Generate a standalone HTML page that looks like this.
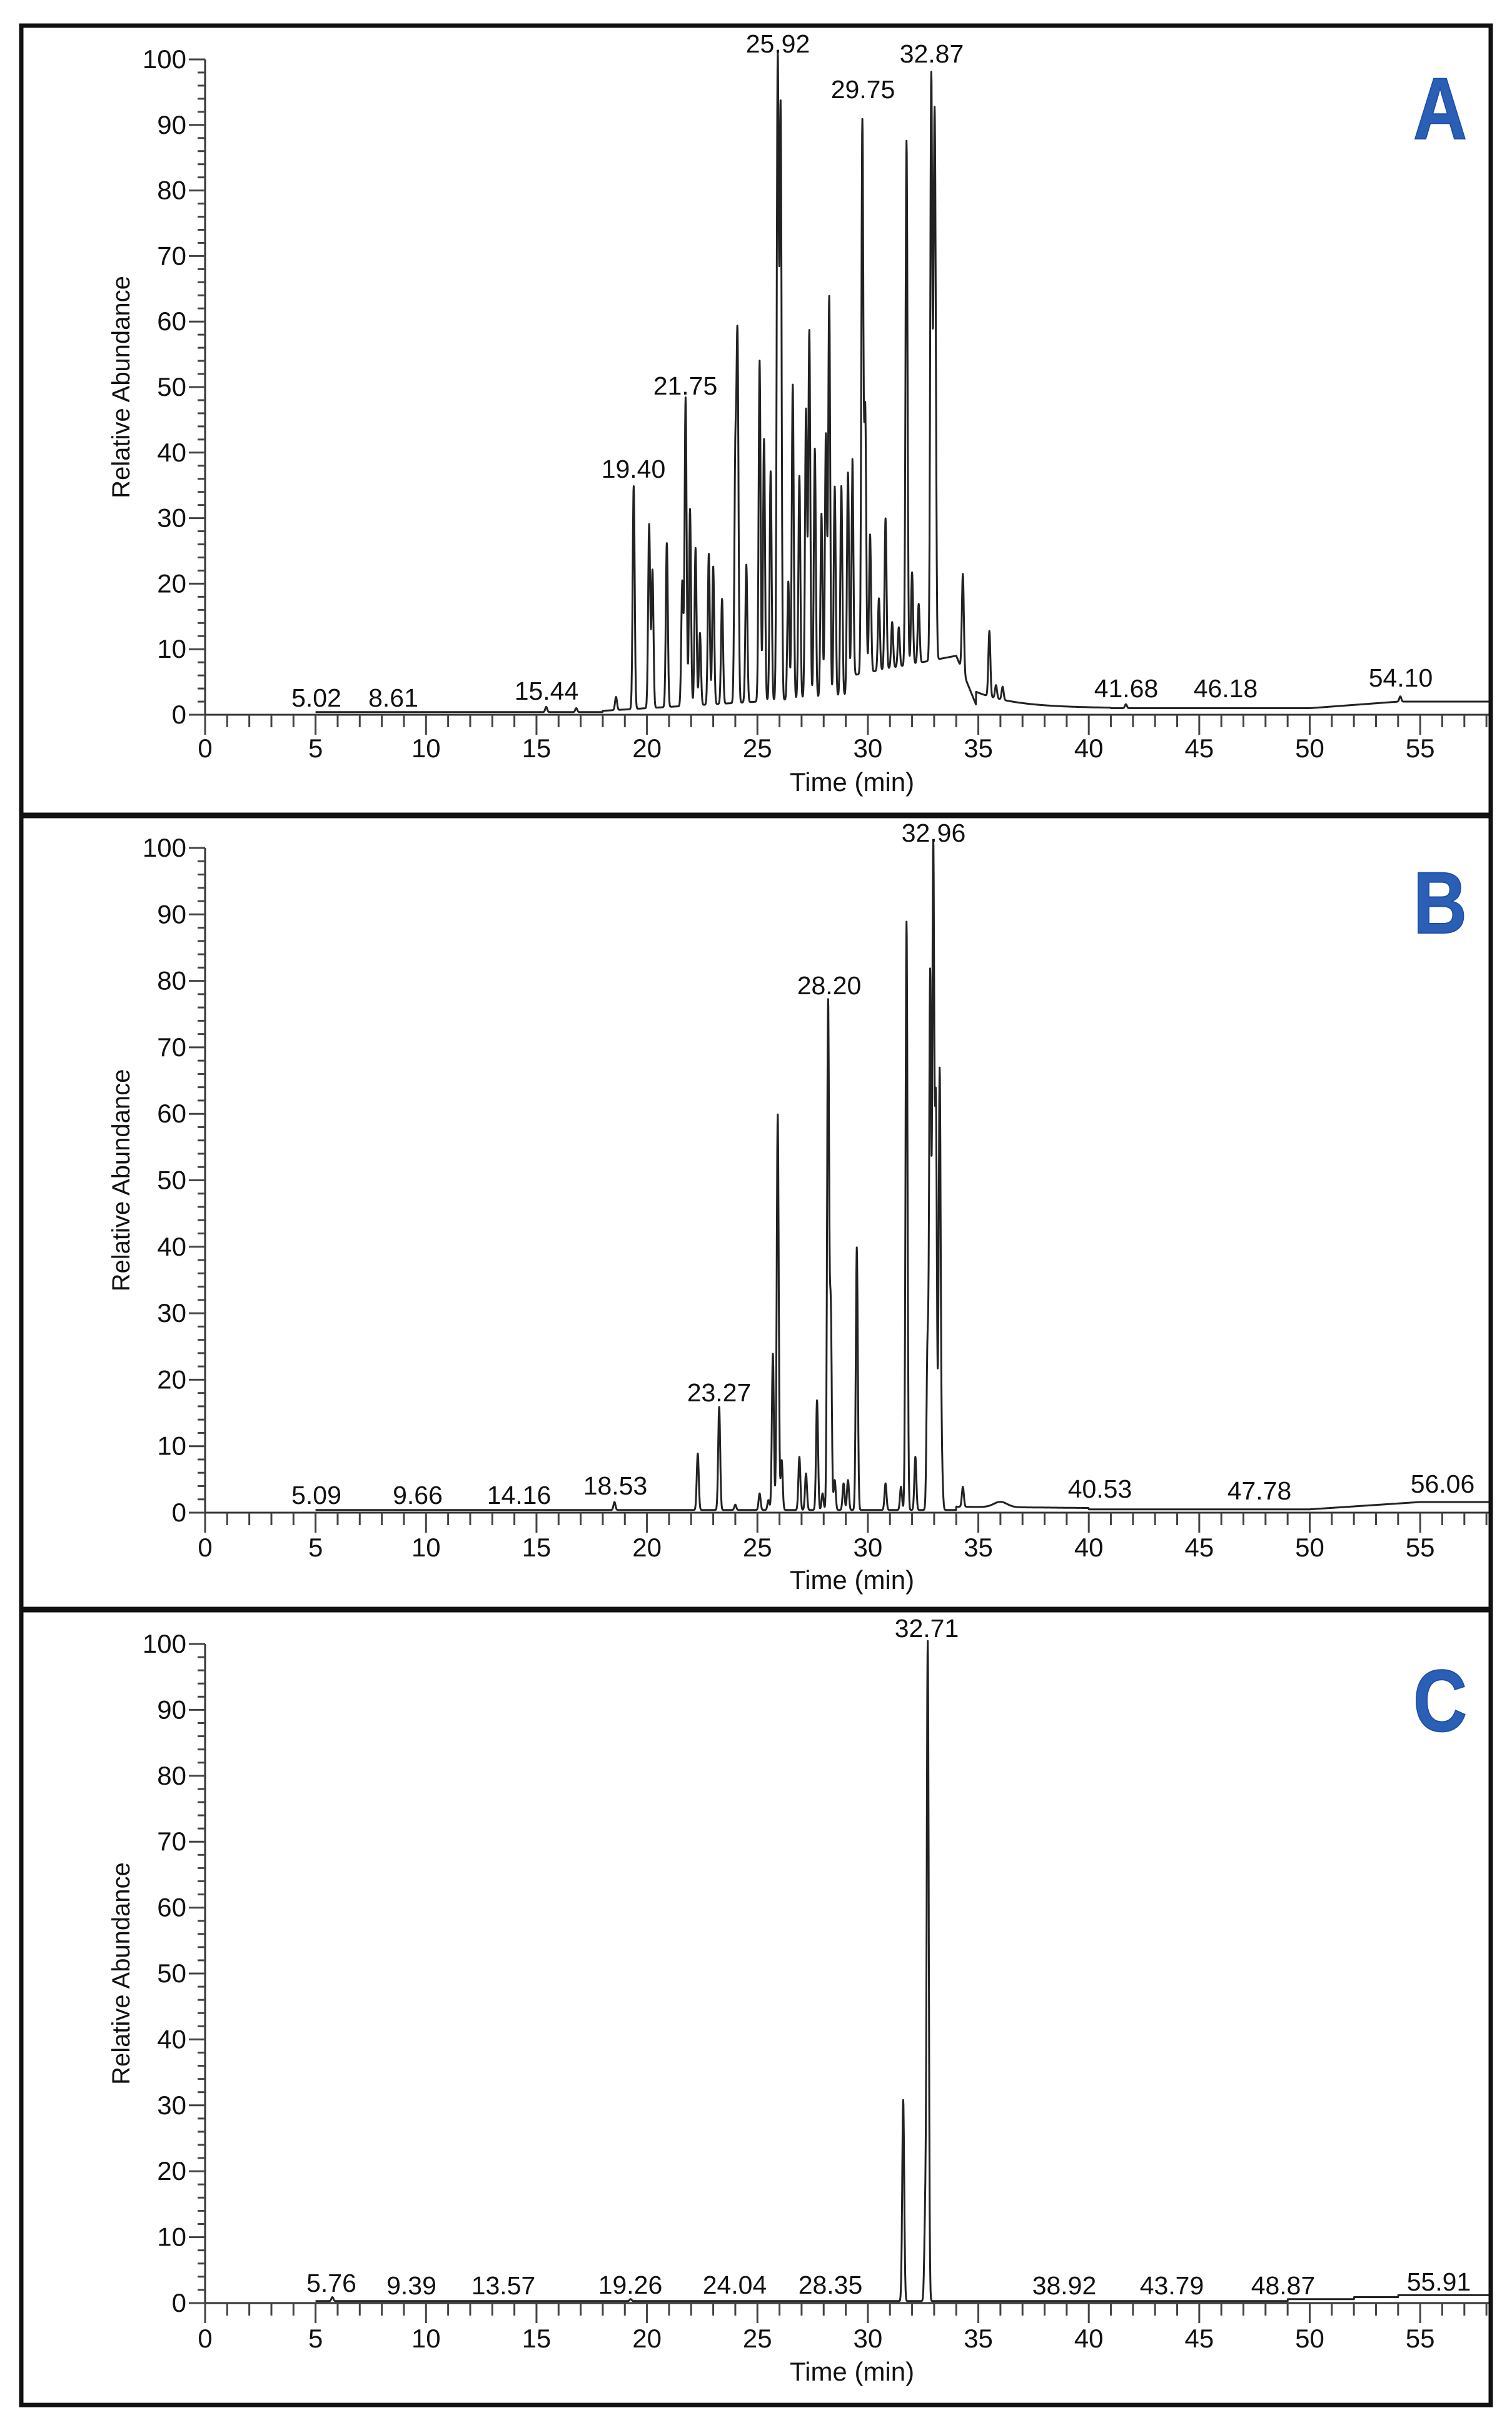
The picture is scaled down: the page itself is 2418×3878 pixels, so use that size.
<!DOCTYPE html>
<html><head><meta charset="utf-8">
<style>
html,body{margin:0;padding:0;background:#fff;}
svg{display:block;}
text{font-family:"Liberation Sans",Arial,sans-serif;fill:#111;}
</style></head>
<body>
<svg id="s" width="2418" height="3878" viewBox="0 0 2418 3878" xmlns="http://www.w3.org/2000/svg">
<rect x="0" y="0" width="2418" height="3878" fill="#fff"/>
<g id="root"></g>
<rect x="34" y="41" width="2350" height="3805" fill="none" stroke="#111" stroke-width="7"/>
<line x1="34" y1="1304" x2="2384" y2="1304" stroke="#111" stroke-width="9"/>
<line x1="34" y1="2574" x2="2384" y2="2574" stroke="#111" stroke-width="9"/>
</svg>
<script>
var NS="http://www.w3.org/2000/svg";
var root=document.getElementById("root");
function el(n,a,t){var e=document.createElementNS(NS,n);for(var k in a)e.setAttribute(k,a[k]);if(t!==undefined)e.textContent=t;root.appendChild(e);return e;}
var X0=328,PPM=35.33,XEND=2384;
function panel(p){
  var y0=p.y0,yh=p.y100,sc=(y0-yh)/100;
  function X(t){return X0+t*PPM;}
  function Y(v){return y0-v*sc;}
  el("line",{x1:X0,y1:y0,x2:XEND,y2:y0,stroke:"#333","stroke-width":3});
  el("line",{x1:X0,y1:y0,x2:X0,y2:yh,stroke:"#333","stroke-width":3});
  for(var v=0;v<=100;v+=2){var maj=v%10==0;
    el("line",{x1:X0-(maj?26:12),y1:Y(v),x2:X0,y2:Y(v),stroke:"#444","stroke-width":3});
    if(maj)el("text",{x:X0-30,y:Y(v)+14,"text-anchor":"end","font-size":42},v);}
  for(var t=0;t<=58;t++){var maj=t%5==0;
    el("line",{x1:X(t),y1:y0,x2:X(t),y2:y0+(maj?32:20),stroke:"#444","stroke-width":3});
    if(maj)el("text",{x:X(t),y:p.xl+15,"text-anchor":"middle","font-size":42},t);}
  el("text",{x:X0+29*PPM+10,y:p.tl+15,"text-anchor":"middle","font-size":42},"Time (min)");
  var yc=(y0+yh)/2;
  el("text",{x:0,y:0,"text-anchor":"middle","font-size":40,transform:"translate(207,"+yc+") rotate(-90)"},"Relative Abundance");
  el("text",{x:0,y:0,"text-anchor":"middle","font-size":140,"font-weight":"bold",style:"fill:#2a5fb5",stroke:"#1d4fa6","stroke-width":2,transform:"translate(2303,"+p.ly+") scale(0.85,1)"},p.letter);
  var d="";
  for(var t=p.start;t<=58.2;t+=0.01){
    var v=p.base(t);
    for(var i=0;i<p.pk.length;i++){var q=p.pk[i],w=q[2]||0.045,dx=(t-q[0])/w;if(Math.abs(dx)<6)v+=q[1]*Math.exp(-dx*dx/2);}
    if(v>101)v=101;
    d+=(d?"L":"M")+X(t).toFixed(1)+" "+Y(v).toFixed(1);
  }
  el("path",{d:d,fill:"none",stroke:"#222","stroke-width":3,"stroke-linejoin":"round"});
  for(var i=0;i<p.lab.length;i++){var l=p.lab[i];el("text",{x:l[1],y:l[2]+14,"text-anchor":"middle","font-size":41},l[0]);}
}
function lerp(a,b,t){return a+(b-a)*t;}
panel({y0:1143,y100:95,xl:1196,tl:1250,ly:222,letter:"A",start:5,
 base:function(t){
  if(t<18)return 0.4;
  if(t<25)return lerp(0.6,2,(t-18)/7);
  if(t<29.3)return lerp(2,3,(t-25)/4.3);
  if(t<34)return lerp(6,9,(t-29.3)/4.7);
  if(t<34.9)return lerp(9,1.5,(t-34)/0.9);
  if(t<41)return 1+2.5*Math.exp(-(t-34.9)/1.8);
  if(t<50)return 1.0;
  return lerp(1.0,2.0,Math.min(1,(t-50)/4));},
 pk:[[15.44,0.8],[16.8,0.6],[18.6,2],[19.40,34],[20.1,28],[20.25,21],[20.9,25],[21.6,19],[21.75,47],[21.95,30],[22.2,24],[22.4,11],[22.8,23],[23.0,21],[23.4,16],[24.0,36],[24.1,54],[24.5,21],[25.1,52],[25.3,40],[25.6,35],[25.92,98],[26.05,90],[26.4,18],[26.6,48],[26.9,34],[27.2,44],[27.35,56],[27.6,38],[27.9,28],[28.1,40],[28.25,61],[28.5,32],[28.8,32],[29.1,34],[29.3,33],[29.75,84],[29.88,40],[30.1,21],[30.5,11],[30.8,23],[31.1,7],[31.4,6],[31.75,80],[32.0,14],[32.3,9],[32.87,89],[33.0,53],[33.05,45],[34.3,15],[35.5,10],[35.8,2],[36.1,2],[41.68,0.6],[54.10,0.8]],
 lab:[["5.02",506,1116],["8.61",629,1116],["15.44",874,1105],["19.40",1013,750],["21.75",1096,617],["25.92",1244,70],["29.75",1380,143],["32.87",1490,86],["41.68",1801,1101],["46.18",1960,1101],["54.10",2240,1084]]});
panel({y0:2419,y100:1356,xl:2474,tl:2526,ly:1492,letter:"B",start:5,
 base:function(t){
  if(t<34)return 0.4;
  if(t<40)return lerp(0.9,0.7,(t-34)/6);
  if(t<50)return 0.5;
  return lerp(0.5,1.6,Math.min(1,(t-50)/5));},
 pk:[[18.53,1.2],[22.3,8.5],[23.27,15.5],[24.0,0.8],[25.1,2.5],[25.5,1.5],[25.7,23.5],[25.92,59.5],[26.1,7.5],[26.9,8],[27.2,5.5],[27.7,16.5],[27.95,2.5],[28.2,76],[28.32,30],[28.5,4.5],[28.9,4],[29.1,4.5],[29.5,39.5],[30.8,4],[31.5,3.5],[31.75,88.5],[32.15,8],[32.7,24],[32.82,80],[32.96,99],[33.08,60],[33.25,66],[33.35,6],[34.3,3],[36,0.8,0.3]],
 lab:[["5.09",506,2391],["9.66",668,2391],["14.16",830,2391],["18.53",984,2376],["23.27",1150,2227],["28.20",1326,1576],["32.96",1493,1332],["40.53",1759,2381],["47.78",2014,2384],["56.06",2307,2373]]});
panel({y0:3683,y100:2629,xl:3739,tl:3792,ly:2768,letter:"C",start:5,
 base:function(t){if(t<49)return 0.3;if(t<52)return 0.6;if(t<54)return 0.9;return 1.2;},
 pk:[[5.76,0.6],[19.26,0.3],[31.6,30.5],[32.6,13],[32.71,99.5]],
 lab:[["5.76",530,3651],["9.39",658,3655],["13.57",805,3655],["19.26",1008,3654],["24.04",1175,3654],["28.35",1328,3654],["32.71",1482,2604],["38.92",1702,3655],["43.79",1874,3655],["48.87",2052,3655],["55.91",2301,3649]]});
</script>
</body></html>
